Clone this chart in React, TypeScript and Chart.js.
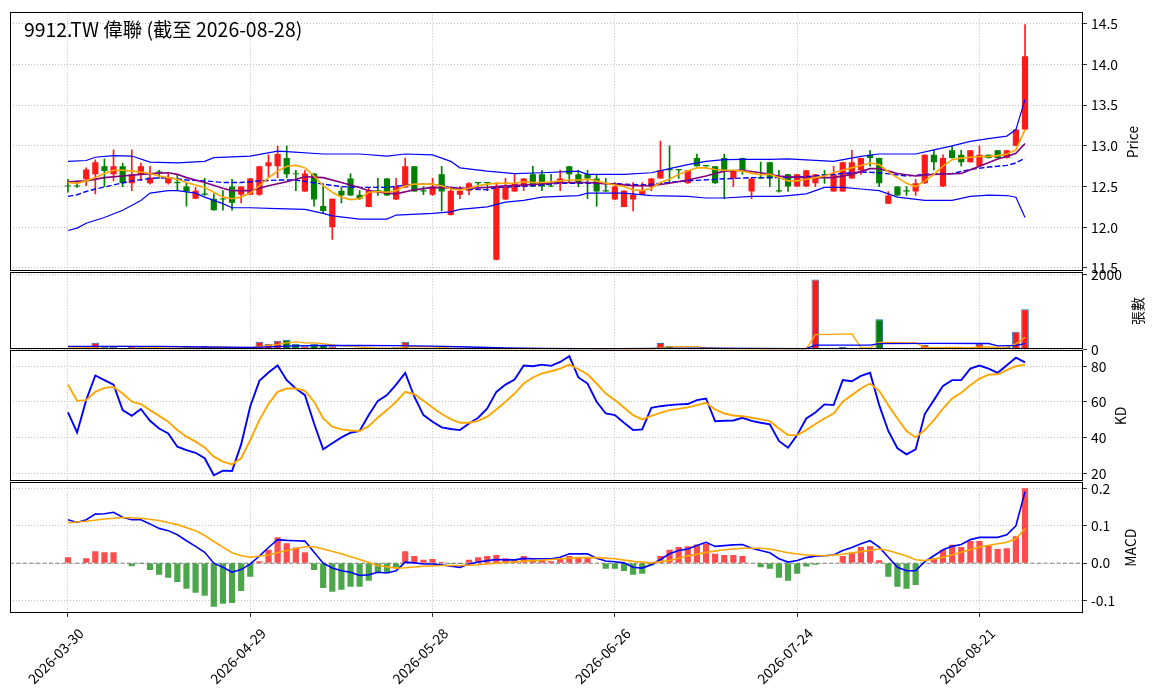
import React, { useEffect, useRef } from 'react';
import { Chart, registerables } from 'chart.js';

Chart.register(...registerables);

// ---------------- data ----------------
const xTickIdx = [0, 20, 40, 60, 80, 100];
const xTickLabels = ['2026-03-30', '2026-04-29', '2026-05-28', '2026-06-26', '2026-07-24', '2026-08-21'];

const priceTicks = [11.5, 12, 12.5, 13, 13.5, 14, 14.5];
const volTicks = [0, 2000];
const kdTicks = [20, 40, 60, 80];
const macdTicks = [-0.1, 0, 0.1, 0.2];

const opens = [
  12.51, 12.51, 12.59, 12.65, 12.75, 12.65, 12.75, 12.54, 12.65, 12.54,
  12.68, 12.54, 12.55, 12.50, 12.35, 12.41, 12.35, 12.35, 12.50, 12.40,
  12.40, 12.40, 12.75, 12.75, 12.85, 12.66, 12.44, 12.66, 12.26, 12.00,
  12.45, 12.60, 12.40, 12.25, 12.45, 12.60, 12.34, 12.49, 12.75, 12.45,
  12.40, 12.65, 12.15, 12.40, 12.45, 12.55, 12.55, 11.60, 12.34, 12.44,
  12.50, 12.65, 12.65, 12.51, 12.54, 12.75, 12.65, 12.65, 12.60, 12.45,
  12.34, 12.25, 12.34, 12.40, 12.50, 12.60, 12.71, 12.71, 12.54, 12.85,
  12.755, 12.75, 12.85, 12.60, 12.85, 12.44, 12.61, 12.80, 12.45, 12.65,
  12.50, 12.50, 12.54, 12.65, 12.44, 12.44, 12.60, 12.70, 12.89, 12.85,
  12.29, 12.50, 12.45, 12.44, 12.54, 12.89, 12.50, 12.945, 12.89, 12.80,
  12.75, 12.89, 12.945, 12.85, 13.00, 13.20,
];
const closes = [
  12.50, 12.50, 12.71, 12.80, 12.69, 12.75, 12.54, 12.65, 12.75, 12.61,
  12.67, 12.61, 12.54, 12.44, 12.45, 12.40, 12.21, 12.34, 12.30, 12.50,
  12.60, 12.75, 12.80, 12.90, 12.65, 12.65, 12.66, 12.34, 12.20, 12.35,
  12.39, 12.39, 12.35, 12.45, 12.44, 12.39, 12.50, 12.75, 12.44, 12.44,
  12.50, 12.44, 12.45, 12.45, 12.54, 12.54, 12.54, 12.50, 12.50, 12.54,
  12.60, 12.50, 12.50, 12.50, 12.60, 12.65, 12.54, 12.60, 12.44, 12.44,
  12.50, 12.45, 12.40, 12.45, 12.60, 12.70, 12.70, 12.70, 12.70, 12.75,
  12.75, 12.54, 12.70, 12.70, 12.70, 12.60, 12.60, 12.60, 12.44, 12.50,
  12.65, 12.70, 12.65, 12.64, 12.65, 12.80, 12.80, 12.85, 12.85, 12.54,
  12.39, 12.39, 12.44, 12.54, 12.89, 12.80, 12.85, 12.85, 12.80, 12.945,
  12.89, 12.85, 12.85, 12.945, 13.20, 14.10,
];
const highs = [
  12.59, 12.57, 12.73, 12.83, 12.84, 12.95, 12.79, 12.95, 12.79, 12.75,
  12.70, 12.65, 12.65, 12.55, 12.49, 12.60, 12.41, 12.45, 12.59, 12.50,
  12.60, 12.75, 12.89, 13.00, 13.00, 12.70, 12.70, 12.66, 12.53, 12.35,
  12.49, 12.66, 12.45, 12.49, 12.60, 12.60, 12.60, 12.85, 12.75, 12.50,
  12.60, 12.75, 12.50, 12.50, 12.55, 12.55, 12.55, 12.55, 12.60, 12.65,
  12.60, 12.75, 12.70, 12.65, 12.70, 12.75, 12.70, 12.70, 12.65, 12.60,
  12.55, 12.45, 12.55, 12.55, 12.60, 13.06, 13.00, 12.70, 12.70, 12.90,
  12.76, 12.75, 12.90, 12.70, 12.85, 12.60, 12.80, 12.80, 12.70, 12.65,
  12.65, 12.70, 12.65, 12.70, 12.75, 12.80, 12.945, 12.85, 12.945, 12.85,
  12.44, 12.50, 12.50, 12.59, 12.89, 12.945, 12.89, 12.99, 12.945, 12.945,
  13.00, 12.89, 12.945, 12.945, 13.20, 14.49,
];
const lows = [
  12.43, 12.49, 12.51, 12.41, 12.50, 12.57, 12.50, 12.45, 12.57, 12.53,
  12.60, 12.53, 12.45, 12.26, 12.35, 12.39, 12.21, 12.21, 12.21, 12.30,
  12.40, 12.39, 12.61, 12.61, 12.61, 12.45, 12.44, 12.26, 12.17, 11.85,
  12.30, 12.39, 12.34, 12.25, 12.39, 12.39, 12.34, 12.49, 12.44, 12.40,
  12.39, 12.20, 12.15, 12.35, 12.40, 12.50, 12.45, 11.60, 12.34, 12.44,
  12.45, 12.50, 12.45, 12.50, 12.45, 12.55, 12.50, 12.35, 12.26, 12.44,
  12.34, 12.25, 12.20, 12.40, 12.45, 12.60, 12.55, 12.60, 12.54, 12.75,
  12.75, 12.54, 12.35, 12.50, 12.65, 12.35, 12.60, 12.50, 12.43, 12.44,
  12.50, 12.50, 12.50, 12.54, 12.44, 12.44, 12.60, 12.65, 12.75, 12.50,
  12.29, 12.39, 12.39, 12.39, 12.54, 12.70, 12.50, 12.85, 12.75, 12.80,
  12.75, 12.85, 12.85, 12.85, 13.00, 13.20,
];

const ma5 = [
  12.55, 12.54, 12.57, 12.61, 12.66, 12.70, 12.70, 12.69, 12.68, 12.66,
  12.63, 12.61, 12.59, 12.55, 12.52, 12.49, 12.43, 12.37, 12.35, 12.37,
  12.42, 12.51, 12.61, 12.69, 12.75, 12.76, 12.73, 12.63, 12.51, 12.43,
  12.37, 12.34, 12.35, 12.43, 12.44, 12.43, 12.45, 12.51, 12.53, 12.53,
  12.53, 12.51, 12.47, 12.46, 12.48, 12.51, 12.53, 12.54, 12.54, 12.54,
  12.56, 12.55, 12.55, 12.56, 12.57, 12.58, 12.58, 12.59, 12.57, 12.54,
  12.52, 12.50, 12.46, 12.45, 12.48, 12.55, 12.59, 12.65, 12.69, 12.73,
  12.73, 12.71, 12.70, 12.70, 12.69, 12.665, 12.645, 12.65, 12.61, 12.57,
  12.57, 12.59, 12.61, 12.63, 12.67, 12.70, 12.73, 12.76, 12.79, 12.77,
  12.68, 12.61, 12.54, 12.50, 12.57, 12.65, 12.75, 12.83, 12.85, 12.86,
  12.87, 12.87, 12.88, 12.90, 12.95, 13.20,
];
const ma10Pts: [number, number][] = [
  [0, 12.56], [2, 12.57], [4, 12.61], [6, 12.63], [8, 12.65], [10, 12.665], [11, 12.67], [12, 12.65],
  [13, 12.61], [15, 12.55], [17, 12.48], [18, 12.45], [20, 12.45], [22, 12.51], [24, 12.56], [25, 12.59],
  [26, 12.62], [28, 12.61], [30, 12.55], [32, 12.49], [33, 12.45], [35, 12.42], [36, 12.41], [38, 12.46],
  [40, 12.49], [42, 12.48], [44, 12.48], [46, 12.49], [48, 12.51], [50, 12.52], [53, 12.54], [54, 12.55],
  [57, 12.55], [60, 12.53], [62, 12.51], [64, 12.51], [66, 12.54], [68, 12.58], [70, 12.63], [72, 12.69],
  [74, 12.70], [76, 12.67], [78, 12.63], [79, 12.62], [81, 12.61], [84, 12.61], [86, 12.65], [88, 12.72],
  [89, 12.72], [91, 12.66], [93, 12.63], [95, 12.65], [98, 12.66], [100, 12.75], [102, 12.84], [103, 12.87],
  [104, 12.91], [105, 13.03],
];
const ma20Pts: [number, number][] = [
  [0, 12.38], [1, 12.40], [2, 12.44], [3, 12.47], [5, 12.52], [7, 12.57], [9, 12.60], [11, 12.61],
  [13, 12.58], [15, 12.57], [17, 12.55], [19, 12.55], [21, 12.57], [23, 12.58], [25, 12.58], [28, 12.53],
  [30, 12.50], [32, 12.49], [35, 12.49], [38, 12.53], [40, 12.53], [42, 12.49], [44, 12.47], [46, 12.46],
  [47, 12.49], [49, 12.50], [51, 12.51], [53, 12.53], [54, 12.54], [57, 12.54], [60, 12.535], [63, 12.52],
  [65, 12.54], [68, 12.57], [71, 12.59], [73, 12.60], [75, 12.61], [79, 12.61], [82, 12.63], [85, 12.66],
  [87, 12.68], [89, 12.67], [92, 12.63], [94, 12.65], [97, 12.66], [99, 12.71], [101, 12.74], [103, 12.76],
  [104, 12.79], [105, 12.85],
];
const bbUpperPts: [number, number][] = [
  [0, 12.81], [2, 12.82], [3, 12.86], [5, 12.88], [7, 12.875], [9, 12.80], [12, 12.79], [15, 12.81],
  [16, 12.855], [20, 12.875], [23, 12.935], [24, 12.93], [28, 12.90], [32, 12.90], [35, 12.875], [37, 12.90],
  [40, 12.89], [42, 12.81], [43, 12.73], [46, 12.69], [49, 12.66], [52, 12.67], [56, 12.69], [57, 12.65],
  [61, 12.65], [64, 12.67], [66, 12.72], [68, 12.77], [70, 12.81], [72, 12.83], [74, 12.835], [77, 12.835],
  [79, 12.84], [84, 12.81], [87, 12.87], [89, 12.90], [93, 12.90], [95, 12.95], [97, 13.0], [99, 13.055],
  [101, 13.09], [103, 13.12], [104, 13.20], [105, 13.57],
];
const bbLowerPts: [number, number][] = [
  [0, 11.96], [1, 11.99], [2, 12.05], [4, 12.12], [6, 12.21], [8, 12.33], [9, 12.42], [11, 12.45],
  [12, 12.45], [14, 12.42], [15, 12.37], [17, 12.29], [18, 12.24], [20, 12.24], [23, 12.23], [26, 12.22],
  [28, 12.17], [29, 12.14], [32, 12.10], [35, 12.10], [36, 12.15], [40, 12.17], [42, 12.19], [43, 12.22],
  [46, 12.25], [48, 12.31], [50, 12.33], [52, 12.37], [54, 12.38], [56, 12.39], [57, 12.42], [61, 12.42],
  [64, 12.39], [68, 12.38], [70, 12.36], [72, 12.36], [75, 12.38], [78, 12.38], [79, 12.39], [81, 12.41],
  [83, 12.49], [85, 12.49], [87, 12.47], [89, 12.45], [91, 12.37], [94, 12.33], [97, 12.33], [99, 12.38],
  [101, 12.395], [103, 12.39], [104, 12.37], [105, 12.12],
];

const volumes = [
  35, 35, 61, 184, 79, 79, 44, 88, 61, 35,
  26, 26, 35, 105, 35, 105, 53, 35, 35, 26,
  35, 210, 158, 237, 263, 158, 88, 158, 131, 88,
  44, 44, 35, 35, 26, 35, 61, 210, 53, 26,
  35, 44, 35, 26, 35, 26, 26, 35, 26, 26,
  26, 26, 26, 22, 22, 26, 22, 22, 26, 22,
  22, 26, 22, 22, 26, 176, 105, 53, 35, 35,
  22, 22, 26, 22, 22, 22, 26, 22, 22, 22,
  22, 26, 1866, 44, 26, 70, 44, 26, 26, 807,
  26, 26, 18, 44, 131, 35, 35, 61, 44, 35,
  158, 26, 35, 70, 473, 1071,
];
const volMa5Pts: [number, number][] = [
  [0, 45], [2, 50], [3, 75], [5, 85], [7, 85], [9, 60], [11, 38], [13, 50], [15, 60], [17, 65], [19, 50],
  [20, 50], [21, 85], [22, 115], [23, 140], [24, 180], [25, 205], [26, 182], [27, 182], [28, 160],
  [29, 125], [30, 102], [31, 93], [32, 68], [34, 37], [36, 40], [37, 73], [38, 77], [40, 77], [42, 40],
  [44, 35], [47, 30], [50, 28], [55, 25], [60, 24], [64, 24], [65, 55], [66, 75], [67, 80], [69, 80],
  [70, 50], [72, 30], [75, 23], [81, 23], [82, 400], [83, 405], [84, 405], [85, 415], [86, 420],
  [87, 45], [88, 45], [89, 195], [90, 190], [91, 185], [92, 180], [93, 185], [94, 55], [96, 55],
  [97, 60], [99, 50], [100, 75], [101, 70], [102, 60], [103, 65], [104, 155], [105, 330],
];
const volMa20Pts: [number, number][] = [
  [0, 88], [5, 88], [10, 85], [15, 70], [20, 62], [22, 75], [25, 100], [28, 115], [32, 110], [36, 105],
  [40, 95], [44, 70], [48, 50], [52, 35], [56, 30], [60, 28], [65, 35], [70, 38], [75, 34], [81, 30],
  [82, 120], [88, 122], [89, 160], [95, 165], [101, 163], [102, 100], [104, 115], [105, 160],
];

const kValues = [
  54.1, 42.9, 61.0, 74.8, 72.2, 69.6, 55.4, 52.2, 56.0, 49.4,
  45.1, 42.3, 34.9, 33.0, 31.5, 28.4, 18.9, 21.5, 21.3, 36.2,
  57.6, 71.8, 76.5, 80.4, 72.2, 67.5, 63.8, 47.9, 33.4, 36.8,
  40.1, 42.7, 43.7, 52.6, 60.6, 63.8, 69.7, 76.3, 62.9, 52.6,
  48.9, 45.7, 44.8, 44.2, 47.9, 51.1, 56.3, 65.6, 69.7, 72.5,
  80.4, 80.0, 80.9, 80.2, 82.4, 85.6, 73.7, 70.3, 60.1, 53.5,
  52.6, 48.3, 44.2, 44.6, 56.7, 57.6, 58.2, 58.6, 58.8, 61.0,
  61.9, 49.2, 49.4, 49.6, 51.1, 49.4, 48.3, 47.4, 38.1, 34.3,
  41.4, 50.7, 54.1, 58.6, 58.2, 72.2, 71.6, 74.6, 76.3, 58.2,
  43.7, 34.0, 30.6, 33.4, 53.2, 61.0, 69.0, 72.2, 72.2, 78.7,
  80.4, 78.7, 76.3, 80.6, 84.8, 82.2,
];
const dValues = [
  69.7, 60.6, 61.0, 65.6, 67.9, 68.4, 64.7, 60.1, 58.8, 55.4,
  52.2, 48.9, 44.2, 40.5, 37.7, 34.5, 29.3, 26.5, 25.0, 28.4,
  38.6, 49.8, 58.8, 65.6, 67.5, 67.5, 66.2, 60.1, 50.7, 46.1,
  44.6, 44.0, 43.7, 46.4, 51.3, 55.4, 60.1, 65.6, 64.3, 60.6,
  56.9, 53.2, 50.4, 48.3, 48.3, 49.4, 51.7, 55.8, 60.1, 64.7,
  70.3, 73.7, 76.0, 77.2, 78.7, 80.9, 78.3, 75.5, 70.3, 64.7,
  61.0, 56.9, 52.6, 50.2, 52.2, 53.9, 55.4, 56.1, 56.9, 58.2,
  59.5, 55.8, 53.5, 52.4, 52.0, 51.1, 50.2, 49.2, 45.1, 41.4,
  41.4, 44.2, 47.6, 50.7, 53.5, 60.1, 63.8, 67.5, 70.3, 66.2,
  58.2, 50.7, 43.7, 40.1, 44.2, 49.8, 56.3, 61.9, 65.1, 69.4,
  73.1, 75.3, 75.5, 77.8, 80.0, 80.9,
];

const macdValues = [
  0.116, 0.109, 0.116, 0.131, 0.132, 0.136, 0.123, 0.116, 0.116, 0.105,
  0.093, 0.087, 0.076, 0.060, 0.045, 0.029, 0.0, -0.011, -0.024, -0.017,
  -0.002, 0.019, 0.042, 0.063, 0.061, 0.060, 0.059, 0.029, 0.0, -0.013,
  -0.020, -0.024, -0.033, -0.031, -0.024, -0.026, -0.020, 0.003, 0.001, -0.002,
  -0.002, -0.004, -0.008, -0.011, -0.002, 0.003, 0.007, 0.010, 0.009, 0.009,
  0.013, 0.012, 0.012, 0.012, 0.016, 0.025, 0.025, 0.025, 0.013, 0.006,
  0.004, 0.001, -0.011, -0.013, -0.004, 0.010, 0.025, 0.034, 0.038, 0.047,
  0.056, 0.045, 0.047, 0.049, 0.050, 0.040, 0.034, 0.028, 0.012, 0.003,
  0.007, 0.015, 0.019, 0.020, 0.022, 0.034, 0.042, 0.052, 0.060, 0.043,
  0.016, -0.011, -0.020, -0.020, 0.004, 0.020, 0.036, 0.045, 0.050, 0.063,
  0.069, 0.069, 0.069, 0.076, 0.100, 0.191,
];
const signalPts: [number, number][] = [
  [0, 0.108], [2, 0.112], [4, 0.118], [6, 0.122], [8, 0.120], [10, 0.114], [12, 0.103], [14, 0.087],
  [15, 0.074], [16, 0.058], [17, 0.043], [18, 0.028], [19, 0.020], [20, 0.016], [22, 0.022], [24, 0.034],
  [26, 0.044], [27, 0.044], [28, 0.038], [30, 0.025], [32, 0.010], [34, -0.006], [36, -0.013], [37, -0.012],
  [39, -0.008], [41, -0.006], [43, -0.006], [45, -0.004], [47, 0.0], [49, 0.004], [51, 0.007], [52, 0.008],
  [54, 0.012], [56, 0.015], [58, 0.015], [60, 0.012], [62, 0.005], [63, 0.003], [64, 0.001], [66, 0.007],
  [68, 0.019], [70, 0.029], [72, 0.036], [74, 0.040], [76, 0.040], [77, 0.038], [79, 0.028], [81, 0.022],
  [83, 0.020], [85, 0.024], [87, 0.031], [89, 0.038], [90, 0.034], [92, 0.019], [93, 0.009], [94, 0.007],
  [96, 0.016], [98, 0.029], [100, 0.043], [102, 0.052], [103, 0.056], [104, 0.065], [105, 0.092],
];
const histValues = [
  0.016, 0.0, 0.013, 0.032, 0.029, 0.029, 0.0, -0.008, -0.002, -0.018,
  -0.031, -0.039, -0.05, -0.068, -0.079, -0.087, -0.116, -0.108, -0.106, -0.074,
  -0.036, 0.005, 0.036, 0.069, 0.053, 0.042, 0.029, -0.018, -0.066, -0.076,
  -0.071, -0.063, -0.063, -0.047, -0.024, -0.024, -0.011, 0.032, 0.019, 0.009,
  0.011, 0.003, -0.002, -0.002, 0.009, 0.016, 0.019, 0.022, 0.013, 0.01,
  0.019, 0.01, 0.007, 0.005, 0.012, 0.019, 0.014, 0.016, 0.0, -0.015,
  -0.015, -0.021, -0.031, -0.028, -0.006, 0.019, 0.036, 0.043, 0.045, 0.05,
  0.052, 0.025, 0.022, 0.022, 0.019, 0.0, -0.011, -0.015, -0.039, -0.047,
  -0.028, -0.009, -0.004, -0.001, 0.0, 0.019, 0.028, 0.043, 0.045, 0.008,
  -0.036, -0.063, -0.068, -0.058, 0.001, 0.013, 0.036, 0.049, 0.043, 0.059,
  0.059, 0.047, 0.038, 0.04, 0.072, 0.2,
];

// ---------------- styling / layout ----------------
const FONT = '"Noto Sans CJK TC", "Noto Sans", "DejaVu Sans", sans-serif';
const TICK_FONT = { family: FONT, size: 13.9 };
const GRID = '#b0b0b0';
const W = 1156;
const PLOT_LEFT = 10;
const AXIS_W = 73;
const X_MIN = -6.36;
const X_MAX = 111.36;
const UP = '#ff1a1a';
const DOWN = '#008000';

const PANELS = [
  { top: 0, h: 284, padTop: 9, padBottom: 12 },
  { top: 260, h: 102, padTop: 12, padBottom: 12 },
  { top: 338, h: 156, padTop: 12, padBottom: 12 },
  { top: 470, h: 228, padTop: 12, padBottom: 0 },
];

function makeX(showLabels: boolean): any {
  return {
    type: 'linear',
    min: X_MIN,
    max: X_MAX,
    offset: false,
    afterBuildTicks: (s: any) => {
      s.ticks = xTickIdx.map((v) => ({ value: v }));
    },
    afterFit: (s: any) => {
      s.height = showLabels ? 85 : 0;
    },
    grid: {
      display: true,
      offset: false,
      color: GRID,
      lineWidth: 0.8,
      drawTicks: showLabels,
      tickLength: 4,
      tickColor: '#000',
      tickWidth: 0.8,
      tickBorderDash: [],
    },
    border: { display: false, dash: [1, 2] },
    ticks: {
      display: showLabels,
      autoSkip: false,
      minRotation: 45,
      maxRotation: 45,
      color: '#000',
      font: TICK_FONT,
      padding: 8,
      labelOffset: 13,
      callback: (v: number) => {
        const k = xTickIdx.indexOf(v);
        return k >= 0 ? xTickLabels[k] : '';
      },
    },
  };
}

function makeY(min: number, max: number, ticks: number[], digits: number): any {
  return {
    type: 'linear',
    position: 'right',
    min,
    max,
    afterBuildTicks: (s: any) => {
      s.ticks = ticks.map((v) => ({ value: v }));
    },
    afterFit: (s: any) => {
      s.width = AXIS_W;
    },
    grid: {
      color: GRID,
      lineWidth: 0.8,
      drawTicks: true,
      tickLength: 4,
      tickColor: '#000',
      tickWidth: 0.8,
      tickBorderDash: [],
    },
    border: { display: false, dash: [1, 2] },
    ticks: {
      color: '#000',
      font: TICK_FONT,
      padding: 4,
      callback: (v: number) => (digits > 0 ? v.toFixed(digits) : String(v)),
    },
  };
}

function baseOptions(p: { padTop: number; padBottom: number }, y: any, showX: boolean): any {
  return {
    responsive: false,
    animation: false,
    events: [],
    layout: { padding: { left: PLOT_LEFT, right: 0, top: p.padTop, bottom: p.padBottom } },
    plugins: { legend: { display: false }, tooltip: { enabled: false }, title: { display: false } },
    scales: { x: makeX(showX), y },
  };
}

function panelPlugin(cfg: { title?: string; ylabel: string; ylabelX: number; zeroLine?: boolean }): any {
  return {
    id: 'panelDeco',
    beforeDatasetsDraw(chart: any) {
      if (!cfg.zeroLine) return;
      const { ctx, chartArea } = chart;
      const y0 = chart.scales.y.getPixelForValue(0);
      ctx.save();
      ctx.strokeStyle = '#808080';
      ctx.lineWidth = 1;
      ctx.setLineDash([4, 2.5]);
      ctx.beginPath();
      ctx.moveTo(chartArea.left, y0);
      ctx.lineTo(chartArea.right, y0);
      ctx.stroke();
      ctx.restore();
    },
    afterDraw(chart: any) {
      const { ctx, chartArea } = chart;
      ctx.save();
      ctx.strokeStyle = '#000';
      ctx.lineWidth = 1;
      ctx.setLineDash([]);
      ctx.strokeRect(
        Math.round(chartArea.left) + 0.5,
        Math.round(chartArea.top) + 0.5,
        Math.round(chartArea.right - chartArea.left) - 1,
        Math.round(chartArea.bottom - chartArea.top) - 1
      );
      ctx.fillStyle = '#000';
      if (cfg.title) {
        ctx.font = `19.4px ${FONT}`;
        ctx.textAlign = 'left';
        ctx.textBaseline = 'alphabetic';
        ctx.fillText(cfg.title, 24, 37);
      }
      ctx.font = `13.9px ${FONT}`;
      ctx.translate(cfg.ylabelX, (chartArea.top + chartArea.bottom) / 2);
      ctx.rotate(-Math.PI / 2);
      ctx.textAlign = 'center';
      ctx.textBaseline = 'middle';
      ctx.fillText(cfg.ylabel, 0, 0);
      ctx.restore();
    },
  };
}

function lineSet(points: [number, number][], color: string, width: number, dash: number[] = []): any {
  return {
    type: 'line',
    data: points.map(([x, y]) => ({ x, y })),
    borderColor: color,
    borderWidth: width,
    borderDash: dash,
    pointRadius: 0,
    fill: false,
    tension: 0,
  };
}

const perBar = (arr: number[]): [number, number][] => arr.map((v, i) => [i, v]);

function priceConfig(): any {
  const colors = opens.map((o, i) => (closes[i] >= o ? UP : DOWN));
  const body = opens.map((o, i) => ({ x: i, y: [Math.min(o, closes[i]), Math.max(o, closes[i])] }));
  const wick = opens.map((_, i) => ({ x: i, y: [lows[i], highs[i]] }));
  return {
    type: 'bar',
    data: {
      datasets: [
        lineSet(perBar(ma5), '#ffa500', 1.6),
        lineSet(ma10Pts, '#800080', 1.6),
        lineSet(ma20Pts, '#0000ff', 1.4, [5.5, 2.4]),
        lineSet(bbUpperPts, '#0000ff', 1.2),
        lineSet(bbLowerPts, '#0000ff', 1.2),
        {
          type: 'bar',
          data: body,
          backgroundColor: colors,
          borderWidth: 0,
          grouped: false,
          barPercentage: 0.68,
          categoryPercentage: 1,
          minBarLength: 1.2,
        },
        {
          type: 'bar',
          data: wick,
          backgroundColor: colors,
          borderWidth: 0,
          grouped: false,
          barThickness: 1,
        },
      ],
    },
    options: baseOptions(PANELS[0], makeY(11.455, 14.64, priceTicks, 1), false),
    plugins: [panelPlugin({ title: '9912.TW 偉聯 (截至 2026-08-28)', ylabel: 'Price', ylabelX: 1133 })],
  };
}

function volumeConfig(): any {
  const colors = opens.map((o, i) => (closes[i] >= o ? UP : DOWN));
  return {
    type: 'bar',
    data: {
      datasets: [
        lineSet(volMa20Pts, '#0000ff', 1.3),
        lineSet(volMa5Pts, '#ffa500', 1.3),
        {
          type: 'bar',
          data: volumes.map((v, i) => ({ x: i, y: v })),
          backgroundColor: colors,
          borderColor: '#2f6fb0',
          borderWidth: 1,
          grouped: false,
          barPercentage: 0.84,
          categoryPercentage: 1,
        },
      ],
    },
    options: baseOptions(PANELS[1], makeY(0, 2053, volTicks, 0), false),
    plugins: [panelPlugin({ ylabel: '張數', ylabelX: 1138 })],
  };
}

function kdConfig(): any {
  return {
    type: 'line',
    data: {
      datasets: [lineSet(perBar(dValues), '#ffa500', 1.9), lineSet(perBar(kValues), '#0000ff', 1.9)],
    },
    options: baseOptions(PANELS[2], makeY(15.3, 88.9, kdTicks, 0), false),
    plugins: [panelPlugin({ ylabel: 'KD', ylabelX: 1121 })],
  };
}

function macdConfig(): any {
  const colors = histValues.map((v) => (v >= 0 ? 'rgba(255,0,0,0.7)' : 'rgba(0,128,0,0.7)'));
  return {
    type: 'bar',
    data: {
      datasets: [
        lineSet(signalPts, '#ffa500', 1.6),
        lineSet(perBar(macdValues), '#0000ff', 1.6),
        {
          type: 'bar',
          data: histValues.map((v, i) => ({ x: i, y: v })),
          backgroundColor: colors,
          borderWidth: 0,
          grouped: false,
          barPercentage: 0.68,
          categoryPercentage: 1,
        },
      ],
    },
    options: baseOptions(PANELS[3], makeY(-0.133, 0.216, macdTicks, 1), true),
    plugins: [panelPlugin({ ylabel: 'MACD', ylabelX: 1131, zeroLine: true })],
  };
}

export default function App() {
  const r0 = useRef<HTMLCanvasElement>(null);
  const r1 = useRef<HTMLCanvasElement>(null);
  const r2 = useRef<HTMLCanvasElement>(null);
  const r3 = useRef<HTMLCanvasElement>(null);
  const refs = [r0, r1, r2, r3];

  useEffect(() => {
    const builders = [priceConfig, volumeConfig, kdConfig, macdConfig];
    const charts: Chart[] = [];
    refs.forEach((r, k) => {
      if (r.current) charts.push(new Chart(r.current, builders[k]()));
    });
    return () => charts.forEach((c) => c.destroy());
  }, []);

  return (
    <div
      style={{
        position: 'absolute',
        left: 0,
        top: 0,
        width: W,
        height: 698,
        background: '#ffffff',
        overflow: 'hidden',
      }}
    >
      {PANELS.map((p, k) => (
        <canvas
          key={k}
          ref={refs[k]}
          width={W}
          height={p.h}
          style={{ position: 'absolute', left: 0, top: p.top, width: W, height: p.h }}
        />
      ))}
    </div>
  );
}
